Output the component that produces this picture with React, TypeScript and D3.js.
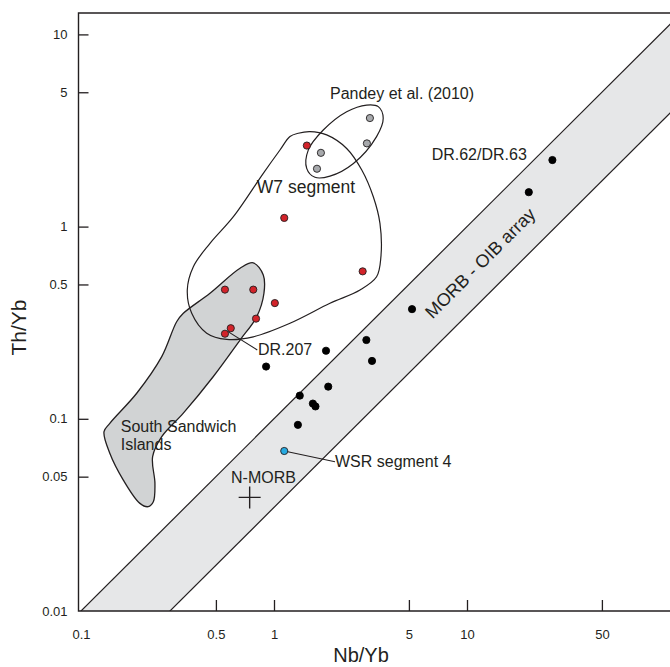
import { useEffect, useRef } from 'react'
import * as d3 from 'd3'

type Pt = [number, number] // [Nb/Yb, Th/Yb]

const X_TICKS = [0.1, 0.5, 1, 5, 10, 50]
const Y_TICKS = [0.01, 0.05, 0.1, 0.5, 1, 5, 10]

// sample groups
const W7_SAMPLES: Pt[] = [
  [1.48, 2.64], [1.13, 1.11], [2.88, 0.585], [0.557, 0.47], [0.781, 0.47],
  [1.01, 0.4], [0.807, 0.332], [0.597, 0.296], [0.557, 0.277],
]
const PANDEY_SAMPLES: Pt[] = [[3.14, 3.67], [3.03, 2.71], [1.75, 2.42], [1.67, 2.0]]
const RIDGE_SAMPLES: Pt[] = [
  [27.7, 2.22], [20.9, 1.51], [5.19, 0.372], [3.01, 0.257], [3.22, 0.2], [1.86, 0.226],
  [0.91, 0.187], [1.91, 0.147], [1.36, 0.132], [1.59, 0.12], [1.64, 0.116], [1.33, 0.093],
]
const WSR4_SAMPLES: Pt[] = [[1.13, 0.068]]
const NMORB: Pt = [0.748, 0.039]

// MORB-OIB array: Th/Yb = k * Nb/Yb
const ARRAY_UPPER = 0.1
const ARRAY_LOWER = 0.0346
const ARRAY_NB = [0.05, 300]

// field outlines
const SSI_FIELD: Pt[] = [
  [0.78, 0.648], [0.88, 0.56], [0.887, 0.45], [0.814, 0.34], [0.667, 0.257], [0.485, 0.166],
  [0.339, 0.107], [0.262, 0.0807], [0.235, 0.0635], [0.2416, 0.0461], [0.237, 0.037],
  [0.223, 0.0349], [0.202, 0.0363], [0.1657, 0.048], [0.141, 0.0662], [0.1316, 0.0857],
  [0.141, 0.0947], [0.1944, 0.1358], [0.262, 0.2105], [0.313, 0.32], [0.339, 0.354],
  [0.466, 0.45], [0.667, 0.607],
]
const W7_FIELD: Pt[] = [
  [1.336, 3.06], [1.21, 2.94], [1.074, 2.503], [0.88, 1.893], [0.616, 1.126], [0.466, 0.818],
  [0.382, 0.619], [0.3554, 0.468], [0.3747, 0.354], [0.448, 0.279], [0.569, 0.259],
  [0.781, 0.267], [1.21, 0.314], [1.95, 0.399], [2.79, 0.468], [3.4, 0.548], [3.58, 0.696],
  [3.54, 1.04], [3.27, 1.43], [2.85, 1.97], [2.38, 2.55], [1.875, 3.0], [1.536, 3.12],
]
const PANDEY_FIELD: Pt[] = [
  [3.68, 3.66], [3.47, 4.21], [3.02, 4.29], [2.38, 3.96], [1.8, 3.18], [1.505, 2.5],
  [1.477, 2.01], [1.63, 1.805], [1.95, 1.83], [2.58, 2.13], [3.4, 2.94],
]

const LEADERS: [Pt, Pt][] = [
  [[0.575, 0.285], [0.819, 0.228]],
  [[1.13, 0.068], [2.07, 0.0598]],
]

const LABELS: { text: string; at: Pt; size: number; anchor?: string; rotate?: number }[] = [
  { text: 'Pandey et al. (2010)', at: [1.95, 4.61], size: 16 },
  { text: 'W7 segment', at: [0.815, 1.5], size: 17.5 },
  { text: 'DR.62/DR.63', at: [6.56, 2.22], size: 16 },
  { text: 'DR.207', at: [0.826, 0.214], size: 16 },
  { text: 'South Sandwich', at: [0.1606, 0.0851], size: 16 },
  { text: 'Islands', at: [0.1606, 0.0688], size: 16 },
  { text: 'N-MORB', at: [0.599, 0.0465], size: 16 },
  { text: 'WSR segment 4', at: [2.07, 0.0563], size: 16 },
  { text: 'MORB - OIB array', at: [11.7, 0.647], size: 18, anchor: 'middle', rotate: -45 },
]

const INK = '#231f20'
const FONT = '"Liberation Sans", Arial, Helvetica, sans-serif'

export default function App() {
  const svgRef = useRef<SVGSVGElement>(null)

  useEffect(() => {
    if (!svgRef.current) return
    const W = 670, H = 667
    const svg = d3.select(svgRef.current).attr('viewBox', `0 0 ${W} ${H}`)
    svg.selectAll('*').remove()

    const x = d3.scaleLog().domain([0.1, 100]).range([81, 660])
    const y = d3.scaleLog().domain([0.01, 10]).range([611, 34.4])
    const left = 78.5, top = 13, bottom = y(0.01)

    svg.append('defs').append('clipPath').attr('id', 'plot-clip')
      .append('rect').attr('x', left).attr('y', top).attr('width', W - left + 20).attr('height', bottom - top)

    const plot = svg.append('g').attr('clip-path', 'url(#plot-clip)')

    // array band
    const band: Pt[] = [
      [ARRAY_NB[0], ARRAY_NB[0] * ARRAY_UPPER], [ARRAY_NB[1], ARRAY_NB[1] * ARRAY_UPPER],
      [ARRAY_NB[1], ARRAY_NB[1] * ARRAY_LOWER], [ARRAY_NB[0], ARRAY_NB[0] * ARRAY_LOWER],
    ]
    const poly = d3.line<Pt>().x(d => x(d[0])).y(d => y(d[1]))
    plot.append('path').attr('d', poly(band) + 'Z').attr('fill', '#e6e7e8')
    ;[ARRAY_UPPER, ARRAY_LOWER].forEach(k => {
      plot.append('path')
        .attr('d', poly(ARRAY_NB.map(n => [n, n * k] as Pt)))
        .attr('fill', 'none').attr('stroke', INK).attr('stroke-width', 1.2)
    })

    const smooth = d3.line<Pt>().x(d => x(d[0])).y(d => y(d[1]))
      .curve(d3.curveCatmullRomClosed.alpha(0.5))

    plot.append('path').attr('d', smooth(SSI_FIELD))
      .attr('fill', '#d1d3d4').attr('stroke', INK).attr('stroke-width', 1.3)
    plot.append('path').attr('d', smooth(W7_FIELD))
      .attr('fill', 'none').attr('stroke', INK).attr('stroke-width', 1.2)
    plot.append('path').attr('d', smooth(PANDEY_FIELD))
      .attr('fill', 'none').attr('stroke', INK).attr('stroke-width', 1.2)

    LEADERS.forEach(([a, b]) => {
      plot.append('line')
        .attr('x1', x(a[0])).attr('y1', y(a[1])).attr('x2', x(b[0])).attr('y2', y(b[1]))
        .attr('stroke', INK).attr('stroke-width', 1.1)
    })

    // N-MORB cross
    const cx = x(NMORB[0]), cy = y(NMORB[1])
    plot.append('path').attr('d', `M${cx - 11},${cy}H${cx + 11}M${cx},${cy - 11}V${cy + 11}`)
      .attr('stroke', INK).attr('stroke-width', 1.4)

    const dots = (data: Pt[], fill: string, stroke: string) => {
      plot.append('g').selectAll('circle').data(data).join('circle')
        .attr('cx', d => x(d[0])).attr('cy', d => y(d[1])).attr('r', 3.6)
        .attr('fill', fill).attr('stroke', stroke).attr('stroke-width', 0.9)
    }
    dots(RIDGE_SAMPLES, '#000', '#000')
    dots(W7_SAMPLES, '#d2232a', INK)
    dots(PANDEY_SAMPLES, '#a7a9ac', INK)
    dots(WSR4_SAMPLES, '#27aae1', INK)

    LABELS.forEach(l => {
      const t = svg.append('text')
        .attr('x', x(l.at[0])).attr('y', y(l.at[1]))
        .attr('text-anchor', l.anchor ?? 'start')
        .attr('font-family', FONT).attr('font-size', l.size).attr('fill', INK)
        .text(l.text)
      if (l.rotate) {
        t.attr('dy', '0.35em')
          .attr('transform', `rotate(${l.rotate},${x(l.at[0])},${y(l.at[1])})`)
      }
    })

    // frame
    svg.append('path').attr('d', `M${W + 10},${top}H${left}V${bottom}H${W + 10}`)
      .attr('fill', 'none').attr('stroke', INK).attr('stroke-width', 1.4)

    const fmt = d3.format('~g')
    const gx = svg.append('g').attr('transform', `translate(0,${bottom})`)
      .call(d3.axisBottom(x).tickValues(X_TICKS).tickFormat(d => fmt(d as number)).tickSize(-11).tickPadding(19))
    const gy = svg.append('g').attr('transform', `translate(${left},0)`)
      .call(d3.axisLeft(y).tickValues(Y_TICKS).tickFormat(d => fmt(d as number)).tickSize(-10).tickPadding(11))
    ;[gx, gy].forEach(g => {
      g.select('.domain').remove()
      g.attr('font-family', FONT).attr('font-size', 13)
      g.selectAll('line').attr('stroke', INK).attr('stroke-width', 1.3)
      g.selectAll('text').attr('fill', INK)
    })
    gx.selectAll<SVGGElement, number>('.tick').filter(d => d === 0.1).select('line').remove()
    gy.selectAll<SVGGElement, number>('.tick').filter(d => d === 0.01).select('line').remove()

    svg.append('text').attr('x', 361).attr('y', 662).attr('text-anchor', 'middle')
      .attr('font-family', FONT).attr('font-size', 20).attr('fill', INK).text('Nb/Yb')
    svg.append('text').attr('transform', 'translate(26,327.5) rotate(-90)').attr('text-anchor', 'middle')
      .attr('font-family', FONT).attr('font-size', 21).attr('fill', INK).text('Th/Yb')
  }, [])

  return (
    <svg ref={svgRef} width={670} height={667}
      style={{ position: 'absolute', left: 0, top: 0, background: '#fff' }} />
  )
}
